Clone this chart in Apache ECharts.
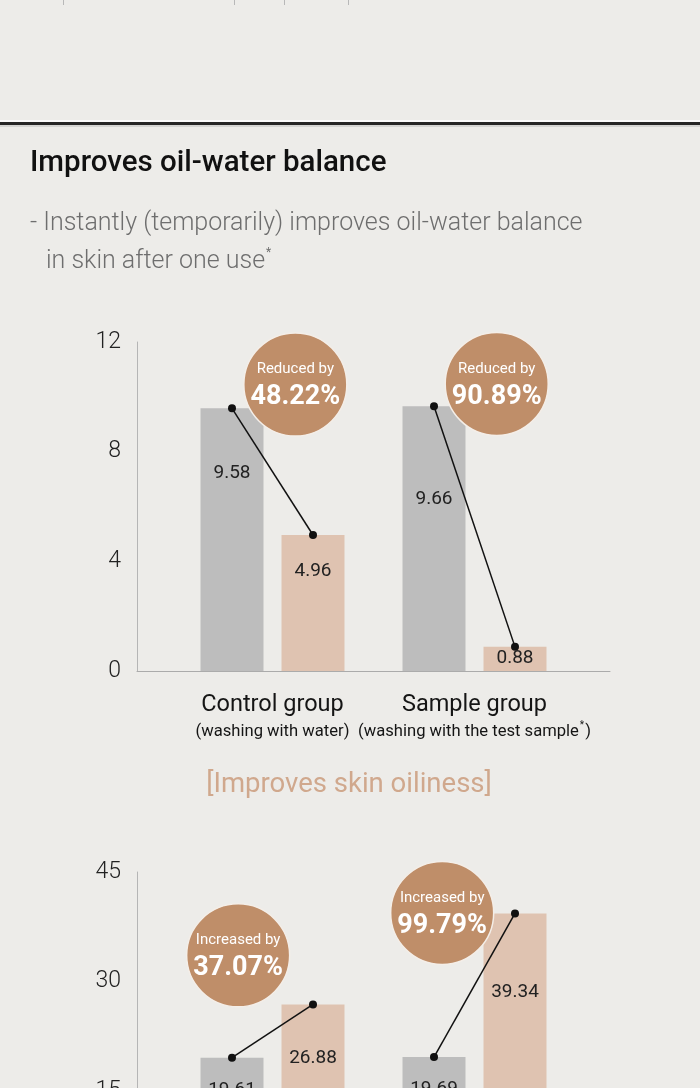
<!DOCTYPE html>
<html>
<head>
<meta charset="utf-8">
<title>Improves oil-water balance</title>
<script src="https://cdn.jsdelivr.net/npm/echarts@6/dist/echarts.min.js"></script>
<style>
html, body { margin: 0; padding: 0; background: #EDECE9; }
#chart { width: 700px; height: 1088px; }
</style>
</head>
<body>
<div id="chart"></div>
<script>
// 分组
const groups = ['Control group', 'Sample group'];
const groupNotes = ['(washing with water)', '(washing with the test sample*)'];

// 上图: 油分
const oilBefore = [9.58, 9.66];
const oilAfter = [4.96, 0.88];
const oilBadge = ['Reduced by', 'Reduced by'];
const oilPct = ['48.22%', '90.89%'];
const oilTicks = [0, 4, 8, 12];

// 下图
const secBefore = [19.61, 19.69];
const secAfter = [26.88, 39.34];
const secBadge = ['Increased by', 'Increased by'];
const secPct = ['37.07%', '99.79%'];
const secTicks = [0, 15, 30, 45];

const FONT = 'Roboto, "Noto Sans", sans-serif';
const GREY = '#BDBDBD';
const PINK = '#DFC3B1';
const BROWN = '#BF8E69';
const BAR_W = 63;
const BAR_GAP = 18;
const BAND = 202;
const FRAME_L = 137;
const FRAME_W = 473;
const PLOT_H = 329;

const grid = [], xAxis = [], yAxis = [], series = [];

function addChart(k, top, ticks, before, after, badge, pct, cfg) {
    const min = ticks[0], max = ticks[ticks.length - 1], step = ticks[1] - ticks[0];
    const barLeft = FRAME_L + (FRAME_W - groups.length * BAND) / 2;
    const g0 = grid.length;
    grid.push({ left: FRAME_L, top: top, width: FRAME_W, height: PLOT_H, containLabel: false, outerBoundsMode: 'none' });
    grid.push({ left: barLeft, top: top, width: groups.length * BAND, height: PLOT_H, containLabel: false, outerBoundsMode: 'none' });
    const x0 = xAxis.length, y0 = yAxis.length;
    // frame axes
    xAxis.push({
        type: 'category', gridIndex: g0, data: groups,
        axisLine: { lineStyle: { color: '#ABABAB', width: 1 } },
        axisTick: { show: false }, axisLabel: { show: false }
    });
    yAxis.push({
        type: 'value', gridIndex: g0, min: min, max: max, interval: step,
        axisLine: { show: true, lineStyle: { color: '#B5B5B5', width: 1 } },
        axisTick: { show: false }, splitLine: { show: false },
        axisLabel: { margin: 16, fontFamily: FONT, fontSize: 23, fontWeight: 300, color: '#222' }
    });
    // bar axes
    xAxis.push({
        type: 'category', gridIndex: g0 + 1, data: groups,
        axisLine: { show: false }, axisTick: { show: false },
        axisLabel: {
            margin: 19, interval: 0,
            formatter: (v, i) => '{a|' + v + '}\n{b|' + groupNotes[i].replace('*', '}{s|*}{b|') + '}',
            rich: {
                a: { fontFamily: FONT, fontSize: 23.5, color: '#151515', lineHeight: 30 },
                b: { fontFamily: FONT, fontSize: 16.6, color: '#151515', lineHeight: 24 },
                s: { fontFamily: FONT, fontSize: 10, color: '#151515', lineHeight: 24, verticalAlign: 'top', padding: [0, 1, 8, 1] }
            }
        }
    });
    xAxis.push({ type: 'value', gridIndex: g0 + 1, min: -0.5, max: groups.length - 0.5, show: false });
    yAxis.push({ type: 'value', gridIndex: g0 + 1, min: min, max: max, show: false });

    const valueLabel = { show: true, position: 'insideTop', fontFamily: FONT, fontSize: 19, color: '#222' };
    series.push({
        type: 'bar', xAxisIndex: x0 + 1, yAxisIndex: y0 + 1,
        barWidth: BAR_W, barGap: (BAR_GAP / BAR_W * 100) + '%',
        itemStyle: { color: GREY }, label: valueLabel, silent: true,
        data: before.map((v, i) => ({ value: v, label: { distance: cfg.beforeLbl[i] } }))
    });
    series.push({
        type: 'bar', xAxisIndex: x0 + 1, yAxisIndex: y0 + 1,
        barWidth: BAR_W,
        itemStyle: { color: PINK }, label: valueLabel, silent: true,
        data: after.map((v, i) => ({ value: v, label: { distance: cfg.afterLbl[i] } }))
    });
    // 连接线
    const off = (BAR_W + BAR_GAP) / 2 / BAND;
    groups.forEach((name, i) => {
        series.push({
            type: 'line', xAxisIndex: x0 + 2, yAxisIndex: y0 + 1, z: 4,
            symbol: 'circle', symbolSize: 8, silent: true,
            lineStyle: { color: '#111', width: 1.5 }, itemStyle: { color: '#111' },
            data: [[i - off, before[i]], [i + off, after[i]]]
        });
    });
    // 圆形标注
    series.push({
        type: 'scatter', xAxisIndex: x0 + 2, yAxisIndex: y0 + 1, z: 5,
        symbol: 'circle', symbolSize: 103, silent: true,
        itemStyle: { color: BROWN, opacity: 1, borderColor: '#F4EEE8', borderWidth: 1.5 },
        label: {
            show: true, position: 'inside',
            formatter: p => '{t|' + badge[p.dataIndex] + '}\n{v|' + pct[p.dataIndex] + '}',
            rich: {
                t: { fontFamily: FONT, fontSize: 15, color: '#fff', lineHeight: 26 },
                v: { fontFamily: FONT, fontSize: 27, fontWeight: 'bold', color: '#fff', lineHeight: 30 }
            }
        },
        data: cfg.badgeAt
    });
}

addChart(0, 342, oilTicks, oilBefore, oilAfter, oilBadge, oilPct, {
    beforeLbl: [55, 84], afterLbl: [27, 2],
    badgeAt: [[0.113, 10.45], [1.11, 10.47]]
});
addChart(1, 872, secTicks, secBefore, secAfter, secBadge, secPct, {
    beforeLbl: [23, 23], afterLbl: [44, 69],
    badgeAt: [[-0.17, 33.6], [0.84, 39.4]]
});

const graphic = [
    // 上方表格残留
    { type: 'line', shape: { x1: 63.5, y1: 0, x2: 63.5, y2: 5 }, style: { stroke: '#B8B8B8', lineWidth: 1 } },
    { type: 'line', shape: { x1: 234.5, y1: 0, x2: 234.5, y2: 5 }, style: { stroke: '#B8B8B8', lineWidth: 1 } },
    { type: 'line', shape: { x1: 284.5, y1: 0, x2: 284.5, y2: 5 }, style: { stroke: '#B8B8B8', lineWidth: 1 } },
    { type: 'line', shape: { x1: 348.5, y1: 0, x2: 348.5, y2: 5 }, style: { stroke: '#B8B8B8', lineWidth: 1 } },
    // 分隔线
    { type: 'rect', shape: { x: 0, y: 120, width: 700, height: 2 }, style: { fill: '#FAFAFA' } },
    { type: 'rect', shape: { x: 0, y: 122, width: 700, height: 3 }, style: { fill: '#262626' } },
    { type: 'rect', shape: { x: 0, y: 125, width: 700, height: 2 }, style: { fill: '#D4D4D2' } },
    {
        type: 'text', x: 30, y: 164,
        style: { text: 'Improves oil-water balance', fontFamily: FONT, fontSize: 29.5, fontWeight: 500, fill: '#111', verticalAlign: 'middle' }
    },
    {
        type: 'text', x: 30, y: 224,
        style: { text: '- Instantly (temporarily) improves oil-water balance', fontFamily: FONT, fontSize: 25, fontWeight: 300, fill: '#6E6E6E', verticalAlign: 'middle' }
    },
    {
        type: 'text', x: 46, y: 262,
        style: {
            text: '{m|in skin after one use}{s|*}', verticalAlign: 'middle',
            rich: {
                m: { fontFamily: FONT, fontSize: 25, fontWeight: 300, fill: '#6E6E6E', lineHeight: 30 },
                s: { fontFamily: FONT, fontSize: 12, fill: '#6E6E6E', lineHeight: 30, verticalAlign: 'top', padding: [0, 0, 10, 1] }
            }
        }
    },
    {
        type: 'text', x: 349, y: 785,
        style: { text: '[Improves skin oiliness]', fontFamily: FONT, fontSize: 27.5, fill: '#D0A88D', align: 'center', verticalAlign: 'middle' }
    }
];

const chart = echarts.init(document.getElementById('chart'));
chart.setOption({
    backgroundColor: '#EDECE9',
    animation: false,
    grid: grid,
    xAxis: xAxis,
    yAxis: yAxis,
    series: series,
    graphic: graphic
});
</script>
</body>
</html>
